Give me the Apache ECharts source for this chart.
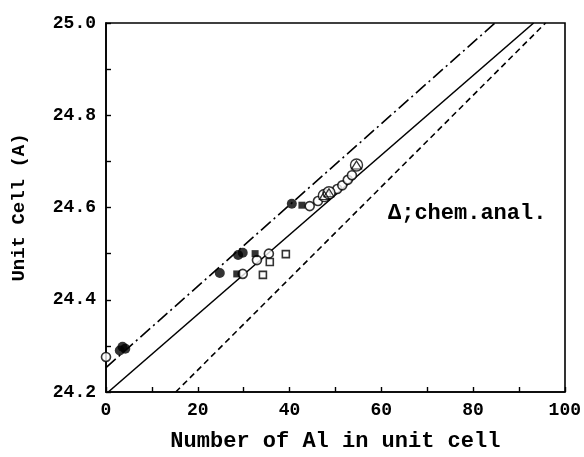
<!DOCTYPE html>
<html>
<head>
<meta charset="utf-8">
<script src="https://cdn.jsdelivr.net/npm/echarts@6/dist/echarts.min.js"></script>
<style>
  html, body { margin: 0; padding: 0; background: #fff; }
  #chart { width: 584px; height: 457px; }
</style>
</head>
<body>
<div id="chart"></div>
<script>
// Axis ranges and ticks
const xTicks = [0, 20, 40, 60, 80, 100];
const yTicks = [24.2, 24.4, 24.6, 24.8, 25.0];

// Measured samples: [Al atoms per unit cell, unit cell parameter]
const filledCircles = [[3, 24.29], [3.6, 24.298], [4.2, 24.294], [24.8, 24.458], [28.8, 24.497], [29.8, 24.502], [40.5, 24.608]];
const filledSquares = [[28.5, 24.456], [32.5, 24.5], [42.7, 24.605]];
const openCircles = [[0, 24.276], [29.8, 24.456], [32.9, 24.486], [35.5, 24.5], [44.4, 24.603], [46.2, 24.614], [50.4, 24.64], [51.5, 24.648], [52.7, 24.66], [53.6, 24.67]];
const openSquares = [[34.2, 24.454], [35.7, 24.482], [39.2, 24.499]];
// Al content from chemical analysis
const chemAnal = [[47.6, 24.626], [48.6, 24.632], [54.6, 24.692]];

// Reference correlation lines (end points)
const lineDashDot = [[0, 24.253], [84.8, 25.0]];
const lineSolid = [[0.5, 24.2], [93.2, 25.0]];
const lineDashed = [[15.2, 24.2], [95.8, 25.0]];

const FONT = '"Liberation Mono", "DejaVu Sans Mono", monospace';
const chart = echarts.init(document.getElementById('chart'));

function lineSeries(data, type) {
  return {
    type: 'line', data: data, symbol: 'none', silent: true, clip: true,
    lineStyle: { color: '#000', width: 1.6, type: type }, z: 1
  };
}

chart.setOption({
  animation: false,
  grid: { left: 106, right: 19, top: 23, bottom: 65 },
  xAxis: {
    type: 'value', min: xTicks[0], max: xTicks[xTicks.length - 1], interval: 20,
    name: 'Number of Al in unit cell', nameLocation: 'middle', nameGap: 38,
    nameTextStyle: { fontFamily: FONT, fontWeight: 'bold', fontSize: 22, color: '#000' },
    axisLine: { lineStyle: { color: '#000', width: 1.6 } },
    axisTick: { inside: true, length: 5, lineStyle: { color: '#000', width: 1.4 } },
    minorTick: { show: true, splitNumber: 2, length: 5, lineStyle: { color: '#000', width: 1.4 } },
    axisLabel: { fontFamily: FONT, fontWeight: 'bold', fontSize: 18, color: '#000', margin: 9 },
    splitLine: { show: false }
  },
  yAxis: {
    type: 'value', min: yTicks[0], max: yTicks[yTicks.length - 1], interval: 0.2,
    name: 'Unit Cell (A)', nameLocation: 'middle', nameGap: 77,
    nameTextStyle: { fontFamily: FONT, fontWeight: 'bold', fontSize: 19, color: '#000' },
    axisLine: { lineStyle: { color: '#000', width: 1.6 } },
    axisTick: { inside: true, length: 5, lineStyle: { color: '#000', width: 1.4 } },
    minorTick: { show: true, splitNumber: 2, length: 5, lineStyle: { color: '#000', width: 1.4 } },
    axisLabel: { fontFamily: FONT, fontWeight: 'bold', fontSize: 18, color: '#000', margin: 10,
      formatter: v => v.toFixed(1) },
    splitLine: { show: false }
  },
  graphic: [
    { type: 'rect', shape: { x: 106, y: 23, width: 459, height: 369 },
      style: { fill: 'none', stroke: '#000', lineWidth: 1.6 }, silent: true, z: 0 },
    { type: 'text', left: 388, top: 202,
      style: { text: '\u0394;chem.anal.', font: 'bold 22px ' + FONT, fill: '#000' } }
  ],
  series: [
    lineSeries(lineDashDot, [13, 4, 2, 4]),
    lineSeries(lineSolid, 'solid'),
    lineSeries(lineDashed, [6, 4]),
    { type: 'scatter', data: openCircles, symbol: 'circle', symbolSize: 9,
      itemStyle: { color: '#fff', borderColor: '#000', borderWidth: 1.6 }, z: 3 },
    { type: 'scatter', data: openSquares, symbol: 'rect', symbolSize: 7,
      itemStyle: { color: '#fff', borderColor: '#000', borderWidth: 1.6 }, z: 3 },
    { type: 'scatter', data: chemAnal, symbol: 'circle', symbolSize: 12,
      itemStyle: { color: '#fff', borderColor: '#000', borderWidth: 1.4 }, z: 3 },
    { type: 'scatter', data: chemAnal, symbol: 'triangle', symbolSize: [10, 8],
      itemStyle: { color: 'rgba(0,0,0,0)', borderColor: '#000', borderWidth: 1.2 }, z: 4 },
    { type: 'scatter', data: filledCircles, symbol: 'circle', symbolSize: 10,
      itemStyle: { color: '#000' }, z: 5 },
    { type: 'scatter', data: filledSquares, symbol: 'rect', symbolSize: 7,
      itemStyle: { color: '#000' }, z: 5 }
  ]
});
</script>
</body>
</html>
